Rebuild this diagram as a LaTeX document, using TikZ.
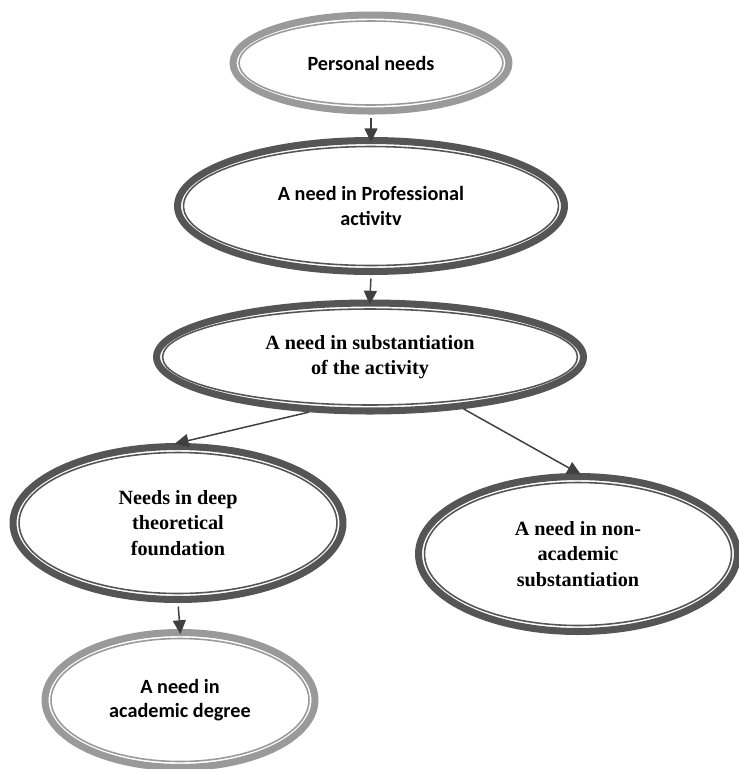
\documentclass[tikz,border=0pt]{standalone}
\usepackage{fontspec}
\setmainfont{Liberation Serif}
\newfontfamily\carlito{Carlito}
\usetikzlibrary{shapes.geometric,arrows.meta}

\definecolor{darkring}{HTML}{555555}
\definecolor{lightring}{HTML}{9A9A9A}
\definecolor{arrowgray}{HTML}{404040}

\tikzset{
  band/.style={ellipse, draw=#1, line width=4pt, inner sep=0pt, align=center,
               font=\bfseries\fontsize{11.5}{14.5}\selectfont},
  rim/.style={ellipse, draw=#1, line width=0.9pt, inner sep=0pt},
  sans/.style={font=\carlito\bfseries\fontsize{11.5}{14}\selectfont},
  arr/.style={draw=arrowgray, line width=0.85pt, -{Triangle[length=2.8mm,width=2.6mm]}},
}

\begin{document}
\begin{tikzpicture}[x=0.02cm, y=-0.02cm]
  \useasboundingbox (0,0) rectangle (739,769);

  % top
  \node[band=lightring, sans, minimum width=5.52cm, minimum height=1.92cm] (pers) at (371,63) {Personal needs};
  \node[rim=lightring, minimum width=5.28cm, minimum height=1.68cm] (pers-in) at (pers.center) {};

  \node[band=darkring, sans, minimum width=7.74cm, minimum height=2.62cm] (prof) at (371,206) {A need in Professional\\activitv};
  \node[rim=darkring, minimum width=7.50cm, minimum height=2.38cm] (prof-in) at (prof.center) {};

  \node[band=darkring, minimum width=8.54cm, minimum height=2.16cm] (subst) at (370,357) {A need in substantiation\\of the activity};
  \node[rim=darkring, minimum width=8.30cm, minimum height=1.92cm] (subst-in) at (subst.center) {};

  % lower level
  \node[band=darkring, minimum width=6.60cm, minimum height=3.06cm] (deep) at (178,523) {Needs in deep\\theoretical\\foundation};
  \node[rim=darkring, minimum width=6.36cm, minimum height=2.82cm] (deep-in) at (deep.center) {};

  \node[band=darkring, minimum width=6.38cm, minimum height=3.10cm] (nonac) at (578,554) {A need in non-\\academic\\substantiation};
  \node[rim=darkring, minimum width=6.14cm, minimum height=2.86cm] (nonac-in) at (nonac.center) {};

  \node[band=lightring, sans, minimum width=5.40cm, minimum height=2.70cm] (degree) at (180,700) {A need in\\academic degree};
  \node[rim=lightring, minimum width=5.16cm, minimum height=2.46cm] (degree-in) at (degree.center) {};

  \draw[arr, shorten <=2pt, shorten >=-3pt] (pers.south) -- (prof.north);
  \draw[arr, shorten <=2pt, shorten >=-3pt] (prof.south) -- (subst.north);
  \draw[arr, shorten >=-2pt] (subst.222) -- (deep.north);
  \draw[arr, shorten >=-2pt] (subst.331) -- (nonac.north);
  \draw[arr, shorten <=2pt, shorten >=-3pt] (deep.south) -- (degree.north);
\end{tikzpicture}
\end{document}
